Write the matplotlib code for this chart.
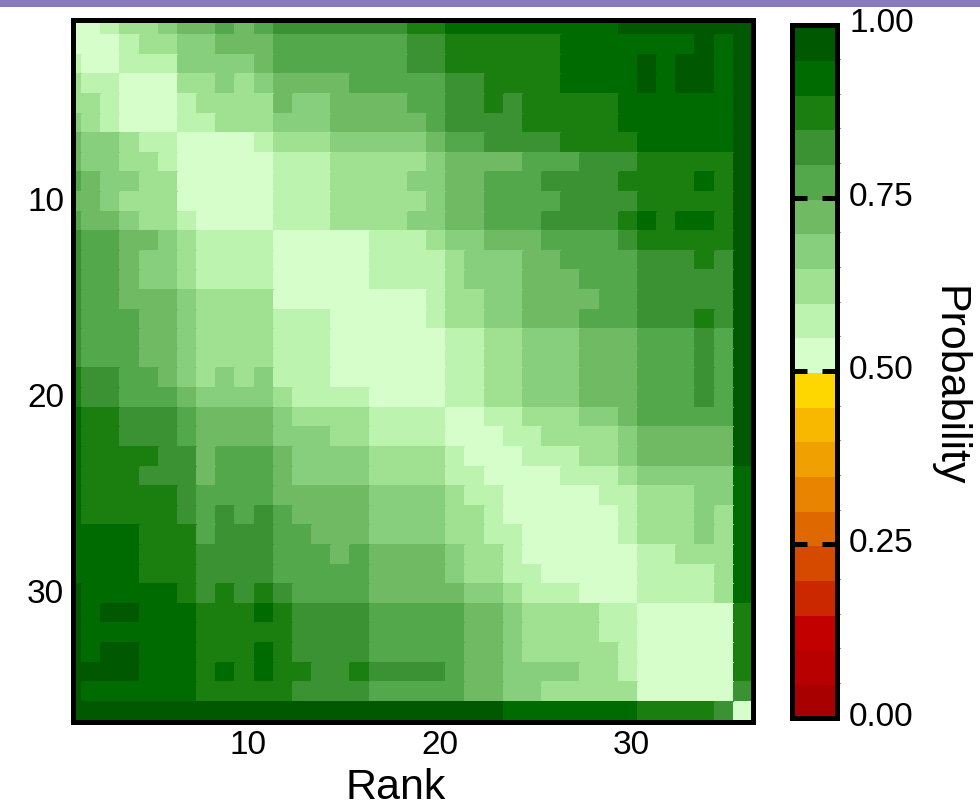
import numpy as np
import matplotlib
matplotlib.use("Agg")
import matplotlib.pyplot as plt
from matplotlib.colors import ListedColormap, BoundaryNorm
from matplotlib.patches import Rectangle
from matplotlib.transforms import ScaledTranslation

plt.rcParams['font.family'] = ['Liberation Sans', 'DejaVu Sans']

# ---------------- data ----------------
ranks = list(range(1, 37))
x_ticks = [10, 20, 30]
y_ticks = [10, 20, 30]
cbar_ticks = [0.0, 0.25, 0.5, 0.75, 1.0]

# Probability, one string per row (rank 1..36),
# each digit = the 0.05-wide probability bin above 0.50
# (0 -> 0.50-0.55, 1 -> 0.55-0.60, ... 9 -> 0.95-1.00)
bin_rows = [
    "001223445456666666" + "778888888889999999",
    "000122334445555555" + "667777778888888989",
    "100111333345555555" + "667777778888989989",
    "211000223234444555" + "556677778888989989",
    "221000122224334444" + "556676777778888889",
    "321000112223334444" + "456666777778888889",
    "433211000012223333" + "345566667777888889",
    "433221000001112222" + "234444555666777779",
    "543322000001112222" + "334455566667777879",
    "443222000001112222" + "234455556666777779",
    "544322100001112222" + "334455566667878879",
    "655443211110000011" + "123344455556777779",
    "655433211110000011" + "112333445555666769",
    "655433211110000011" + "112333444555666669",
    "655444322220000000" + "012233444455666669",
    "655544322221110000" + "012233444555666769",
    "655544322221110000" + "001122333444555659",
    "655544322221110000" + "001122333444555659",
    "766554323231110000" + "001122333444555659",
    "766555433332111100" + "001122333444555659",
    "877666544443222211" + "110011222334555559",
    "877666544443332211" + "110001122223444449",
    "877776645554333322" + "221000111223444449",
    "877766645554333322" + "221100001112333338",
    "877777655554444433" + "332110000011222338",
    "877777656565444433" + "332210000001222328",
    "888877756665544433" + "332211000001222328",
    "888877766665554544" + "443221000000112228",
    "888877766665555544" + "443221100000111128",
    "988888767676555544" + "444332111000111128",
    "989988877787666655" + "555443222211000007",
    "988888877777666655" + "555443222211000007",
    "989988877787666655" + "555443222221000007",
    "999988878787766766" + "665443333221000007",
    "988888877777666655" + "555443322222000006",
    "999999999999999999" + "999998888888777760",
]

red_colors = ['#A80000', '#B80000', '#C20000', '#CC2800', '#D64A00',
              '#E06800', '#E88400', '#F0A000', '#F8B800', '#FFD700']
green_colors = ['#D6FECA', '#BCF3AE', '#A0E191', '#88CF7D', '#6FBA63',
                '#52A84A', '#3A9232', '#1B7F10', '#006B00', '#005800']

prob = np.array([[0.5 + 0.05 * int(c) + 0.025 for c in row] for row in bin_rows])

# ---------------- figure ----------------
W, H = 980, 809
fig = plt.figure(figsize=(W / 100, H / 100), dpi=100)


def box(x0, y0, x1, y1):
    return [x0 / W, 1 - y1 / H, (x1 - x0) / W, (y1 - y0) / H]


def shift(dx_px, dy_px):
    return ScaledTranslation(dx_px / 100, dy_px / 100, fig.dpi_scale_trans)


ax = fig.add_axes(box(72.5, 19.8, 753, 721.5))
cax = fig.add_axes(box(791.5, 24.5, 836.5, 717.5))

cmap = ListedColormap(red_colors + green_colors)
norm = BoundaryNorm(np.linspace(0, 1, 21), cmap.N)

edges = np.arange(0.5, len(ranks) + 1.0, 1.0)
mesh = ax.pcolormesh(edges, edges, prob, cmap=cmap, norm=norm,
                     edgecolors='face', linewidth=0.2)
ax.set_xlim(1.0, 36.5)
ax.set_ylim(36.5, 0.72)
ax.set_xticks(x_ticks)
ax.set_yticks(y_ticks)
ax.tick_params(length=0, labelsize=24, pad=6)
for s in ax.spines.values():
    s.set_linewidth(3.6)
ax.set_xlabel('Rank', fontsize=31)
ax.xaxis.set_label_coords(0.475, -0.066)

for t in ax.xaxis.get_major_ticks():
    t.label1.set_transform(t.label1.get_transform() + shift(3, 0))
for t in ax.yaxis.get_major_ticks():
    t.label1.set_transform(t.label1.get_transform() + shift(0, 3))

cb = fig.colorbar(mesh, cax=cax, ticks=cbar_ticks, format='%.2f')
cb.outline.set_linewidth(3.6)
cb.solids.set_edgecolor('face')
cax.tick_params(direction='in', length=11, width=3.6, left=True, right=True,
                labelsize=24, pad=9)
for t in cax.yaxis.get_major_ticks():
    t.label2.set_transform(t.label2.get_transform() + shift(0, 4))

fig.text(948 / W, 1 - 386 / H, 'Probability', rotation=270, fontsize=31,
         ha='center', va='center')

fig.patches.append(Rectangle((0, 1 - 7 / H), 1, 7 / H, transform=fig.transFigure,
                             facecolor='#8A78C0', edgecolor='none', zorder=10))

fig.savefig('out.png', dpi=100)
